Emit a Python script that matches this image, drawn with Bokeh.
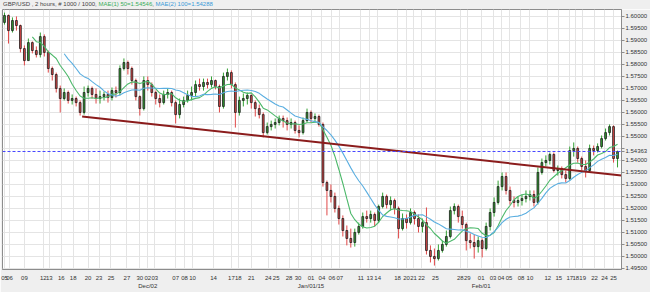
import numpy as np
import pandas as pd
from bokeh.plotting import figure
from bokeh.layouts import column
from bokeh.models import (Range1d, FixedTicker, Span, Div, LinearAxis,
                          ColumnDataSource, CustomJSTickFormatter)
from bokeh.embed import file_html
from bokeh.resources import INLINE

# ---------------- data (GBP/USD, 2-hour candles, sampled) ----------------
first_open = 1.5974
close = [
    1.6003, 1.5940, 1.5982, 1.5961, 1.5865, 1.5815, 1.5890, 1.5857, 1.5840, 1.5915,
    1.5849, 1.5782, 1.5757, 1.5699, 1.5657, 1.5682, 1.5649, 1.5657, 1.5640, 1.5599,
    1.5682, 1.5699, 1.5674, 1.5657, 1.5665, 1.5674, 1.5661, 1.5690, 1.5682, 1.5782,
    1.5807, 1.5782, 1.5732, 1.5665, 1.5615, 1.5732, 1.5715, 1.5682, 1.5657, 1.5640,
    1.5674, 1.5682, 1.5640, 1.5590, 1.5632, 1.5649, 1.5670, 1.5682, 1.5715, 1.5707,
    1.5724, 1.5715, 1.5732, 1.5707, 1.5624, 1.5749, 1.5765, 1.5715, 1.5599, 1.5649,
    1.5657, 1.5670, 1.5640, 1.5615, 1.5590, 1.5515, 1.5540, 1.5549, 1.5557, 1.5574,
    1.5565, 1.5549, 1.5557, 1.5524, 1.5515, 1.5565, 1.5599, 1.5574, 1.5582, 1.5549,
    1.5307, 1.5274, 1.5249, 1.5199, 1.5157, 1.5107, 1.5074, 1.5057, 1.5099, 1.5124,
    1.5165, 1.5157, 1.5174, 1.5149, 1.5207, 1.5249, 1.5215, 1.5232, 1.5199, 1.5115,
    1.5157, 1.5140, 1.5182, 1.5157, 1.5124, 1.5140, 1.5024, 1.4999, 1.4990, 1.5024,
    1.5049, 1.5082, 1.5190, 1.5207, 1.5165, 1.5132, 1.5065, 1.5057, 1.5040, 1.5065,
    1.5032, 1.5124, 1.5182, 1.5224, 1.5290, 1.5332, 1.5274, 1.5232, 1.5224, 1.5232,
    1.5240, 1.5249, 1.5257, 1.5224, 1.5349, 1.5390, 1.5399, 1.5424, 1.5357, 1.5365,
    1.5340, 1.5324, 1.5440, 1.5449, 1.5407, 1.5374, 1.5357, 1.5449, 1.5440, 1.5457,
    1.5490, 1.5515, 1.5540, 1.5407, 1.54363,
]
high = [
    1.6015, 1.6007, 1.5995, 1.5999, 1.5965, 1.5878, 1.5907, 1.5895, 1.5874, 1.5932,
    1.5924, 1.5857, 1.5790, 1.5765, 1.5711, 1.5699, 1.5690, 1.5674, 1.5665, 1.5649,
    1.5707, 1.5711, 1.5707, 1.5699, 1.5690, 1.5686, 1.5690, 1.5703, 1.5707, 1.5795,
    1.5824, 1.5815, 1.5790, 1.5740, 1.5670, 1.5749, 1.5749, 1.5724, 1.5690, 1.5674,
    1.5690, 1.5699, 1.5690, 1.5649, 1.5657, 1.5665, 1.5690, 1.5707, 1.5732, 1.5740,
    1.5740, 1.5740, 1.5749, 1.5736, 1.5715, 1.5765, 1.5782, 1.5774, 1.5724, 1.5665,
    1.5678, 1.5682, 1.5674, 1.5649, 1.5632, 1.5599, 1.5557, 1.5565, 1.5574, 1.5586,
    1.5586, 1.5578, 1.5574, 1.5565, 1.5545, 1.5578, 1.5615, 1.5607, 1.5595, 1.5590,
    1.5557, 1.5315, 1.5299, 1.5265, 1.5211, 1.5170, 1.5128, 1.5115, 1.5115, 1.5140,
    1.5182, 1.5190, 1.5190, 1.5182, 1.5215, 1.5265, 1.5257, 1.5249, 1.5240, 1.5207,
    1.5178, 1.5174, 1.5199, 1.5190, 1.5174, 1.5157, 1.5203, 1.5045, 1.5032, 1.5049,
    1.5065, 1.5107, 1.5207, 1.5220, 1.5215, 1.5190, 1.5140, 1.5095, 1.5090, 1.5082,
    1.5074, 1.5140, 1.5199, 1.5245, 1.5315, 1.5349, 1.5349, 1.5290, 1.5249, 1.5249,
    1.5257, 1.5274, 1.5274, 1.5274, 1.5370, 1.5407, 1.5420, 1.5432, 1.5432, 1.5378,
    1.5374, 1.5357, 1.5457, 1.5474, 1.5457, 1.5415, 1.5399, 1.5465, 1.5461, 1.5470,
    1.5503, 1.5532, 1.5549, 1.5545, 1.5440,
]
low = [
    1.5965, 1.5886, 1.5932, 1.5940, 1.5849, 1.5795, 1.5815, 1.5845, 1.5828, 1.5828,
    1.5832, 1.5765, 1.5732, 1.5682, 1.5599, 1.5649, 1.5636, 1.5632, 1.5624, 1.5586,
    1.5590, 1.5665, 1.5657, 1.5636, 1.5636, 1.5649, 1.5640, 1.5649, 1.5661, 1.5670,
    1.5774, 1.5757, 1.5715, 1.5649, 1.5586, 1.5607, 1.5690, 1.5665, 1.5632, 1.5620,
    1.5632, 1.5657, 1.5624, 1.5553, 1.5574, 1.5620, 1.5640, 1.5649, 1.5665, 1.5690,
    1.5690, 1.5699, 1.5703, 1.5695, 1.5599, 1.5615, 1.5732, 1.5699, 1.5536, 1.5586,
    1.5624, 1.5632, 1.5615, 1.5582, 1.5574, 1.5495, 1.5507, 1.5524, 1.5532, 1.5545,
    1.5536, 1.5524, 1.5532, 1.5511, 1.5495, 1.5507, 1.5557, 1.5557, 1.5557, 1.5540,
    1.5290, 1.5170, 1.5224, 1.5182, 1.5132, 1.5082, 1.5045, 1.5036, 1.5040, 1.5090,
    1.5115, 1.5140, 1.5140, 1.5124, 1.5140, 1.5199, 1.5199, 1.5190, 1.5174, 1.5074,
    1.5107, 1.5115, 1.5132, 1.5132, 1.5099, 1.5099, 1.5007, 1.4974, 1.4961, 1.4982,
    1.5015, 1.5040, 1.5074, 1.5174, 1.5140, 1.5115, 1.5024, 1.5032, 1.4990, 1.5015,
    1.4995, 1.5024, 1.5107, 1.5165, 1.5215, 1.5274, 1.5257, 1.5215, 1.5203, 1.5207,
    1.5211, 1.5224, 1.5232, 1.5207, 1.5215, 1.5340, 1.5374, 1.5382, 1.5349, 1.5336,
    1.5324, 1.5307, 1.5315, 1.5415, 1.5390, 1.5357, 1.5328, 1.5349, 1.5420, 1.5432,
    1.5449, 1.5482, 1.5503, 1.5390, 1.5370,
]

# moving-average windows (50 and 100 two-hour bars, in sampled candles)
ma1_window = 8
ma2_window = 16
ma1_last = "1.54546"
ma2_last = "1.54288"

# support trend line (candle index, price)
trend_x = [19.5, 155.0]
trend_y = [1.5582, 1.5336]

# price axis levels
price_levels = [1.495, 1.500, 1.505, 1.510, 1.515, 1.520, 1.525, 1.530, 1.535, 1.540, 1.545,
                1.550, 1.555, 1.560, 1.565, 1.570, 1.575, 1.580, 1.585, 1.590, 1.595, 1.600]

# date axis
date_tick_pos = [0, 1.25, 5, 9.75, 11.25, 14.25, 17.25, 21, 23.75, 26.75, 30.75, 34, 36, 37.75,
                 43, 45.25, 47.25, 52.5, 57, 58.75, 62, 66.25, 68.25, 71.5, 73.75, 77, 79.75,
                 82.25, 84.25, 89.5, 91.75, 93.75, 98.75, 101, 102.75, 104.75, 108.25, 114.5,
                 116.25, 119.75, 122.75, 124.75, 126.75, 129.75, 132, 136.5, 139.25, 142,
                 143.5, 145.25, 148.25, 150.75, 153]
date_tick_labels = ["05", "06", "09", "12", "13", "16", "18", "20", "23", "25", "27", "30", "02", "03",
                    "07", "08", "10", "14", "17", "18", "21", "24", "25", "28", "30", "01", "04",
                    "06", "07", "11", "13", "14", "18", "20", "21", "22", "25", "28",
                    "29", "01", "03", "04", "05", "08", "10", "12", "15", "17",
                    "18", "19", "22", "24", "25"]
month_tick_pos = [36, 77, 119.75]
month_tick_labels = ["Dec/02", "Jan/01/15", "Feb/01"]

# ---------------- derived ----------------
n = len(close)
idx = np.arange(n)
close_a = np.array(close)
open_a = np.concatenate([[first_open], close_a[:-1]])
up = close_a >= open_a
src = ColumnDataSource(dict(
    x=idx, open=open_a, close=close_a, high=np.array(high), low=np.array(low),
    top=np.maximum(open_a, close_a), bottom=np.minimum(open_a, close_a),
    color=np.where(up, "#33a033", "#e04848"),
))
ma1 = pd.Series(close_a).rolling(ma1_window).mean()
ma2 = pd.Series(close_a).rolling(ma2_window).mean()
last_price = close[-1]

FONT = "Liberation Sans"
TXT = "#333333"
BG = "#efefef"

p = figure(width=650, height=283, x_range=Range1d(-0.5, 155), y_range=Range1d(1.49446, 1.60279),
           y_axis_location="right", output_backend="svg", toolbar_location=None,
           min_border_left=2, min_border_right=26, min_border_top=0, min_border_bottom=23)
p.background_fill_color = "white"
p.border_fill_color = BG
p.outline_line_color = "#8c8c8c"

# y axis (price levels + last-price tag)
y_ticks = price_levels + [last_price]
y_fmt = CustomJSTickFormatter(args=dict(last=last_price), code="""
if (Math.abs(tick - last) < 1e-7) return tick.toFixed(5);
if (Math.abs(tick - last) < 0.0025) return "";
return tick.toFixed(5);
""")
p.yaxis.ticker = FixedTicker(ticks=y_ticks)
p.yaxis.formatter = y_fmt
p.yaxis.major_label_text_font = FONT
p.yaxis.major_label_text_font_size = "6px"
p.yaxis.major_label_text_color = TXT
p.yaxis.major_label_standoff = 1
p.yaxis.major_tick_out = 3
p.yaxis.major_tick_in = 0
p.yaxis.minor_tick_line_color = None
p.yaxis.axis_line_color = "#8c8c8c"
p.yaxis.major_tick_line_color = "#8c8c8c"
p.ygrid.ticker = FixedTicker(ticks=price_levels)
p.ygrid.grid_line_color = "#e4e4e4"

# x axis (days)
fmt_code = """
const i = pos.findIndex(v => Math.abs(v - tick) < 1e-6);
return i >= 0 ? lab[i] : "";
"""
xt = FixedTicker(ticks=date_tick_pos)
p.xaxis.ticker = xt
p.xaxis.formatter = CustomJSTickFormatter(args=dict(pos=date_tick_pos, lab=date_tick_labels), code=fmt_code)
p.xaxis.major_label_text_font = FONT
p.xaxis.major_label_text_font_size = "6px"
p.xaxis.major_label_text_color = TXT
p.xaxis.major_label_standoff = 6
p.xaxis.major_tick_out = 0
p.xaxis.major_tick_in = 0
p.xaxis.minor_tick_line_color = None
p.xaxis.axis_line_color = "#8c8c8c"
p.xaxis.major_tick_line_color = None
p.xgrid.ticker = xt
p.xgrid.grid_line_color = "#e4e4e4"

# x axis (months)
month_axis = LinearAxis(ticker=FixedTicker(ticks=month_tick_pos),
                        formatter=CustomJSTickFormatter(args=dict(pos=month_tick_pos, lab=month_tick_labels), code=fmt_code),
                        axis_line_color=None, major_tick_line_color=None, minor_tick_line_color=None,
                        major_tick_out=0, major_tick_in=0,
                        major_label_standoff=0, major_label_text_font=FONT,
                        major_label_text_font_size="6px", major_label_text_color=TXT)
p.add_layout(month_axis, "below")

# candles: coloured wicks, dark-edged bodies
p.segment(x0="x", y0="high", x1="x", y1="low", source=src, line_color="color", line_width=1)
p.vbar(x="x", width=0.45, top="top", bottom="bottom", source=src,
       fill_color="color", line_color="#1a1a1a", line_width=0.8)

# moving averages
p.line(idx, ma1, line_color="#4cb86a", line_width=1.1)
p.line(idx, ma2, line_color="#5aaee0", line_width=1.1)

# trend line
p.line(trend_x, trend_y, line_color="#8b1c1c", line_width=2)

# last price dashed line
p.add_layout(Span(location=last_price, dimension="width", line_color="#4646ff",
                  line_dash="3 2", line_width=1))

# title line
title = Div(
    text=('<span style="color:#444444">GBP/USD , 2 hours, # 1000 / 1000, </span>'
          f'<span style="color:#3aae5a">MAE(1) 50={ma1_last}</span>'
          '<span style="color:#444444">, </span>'
          f'<span style="color:#3a9ad8">MAE(2) 100={ma2_last}</span>'),
    width=650, height=9, margin=(0, 0, 0, 0),
    styles={"font-family": FONT, "font-size": "6px", "line-height": "9px",
            "background-color": BG, "padding-left": "3px", "white-space": "nowrap",
            "overflow": "hidden"},
)

layout = column(title, p, spacing=0, margin=(0, 0, 0, 0))
open("out.html", "w").write(file_html(layout, INLINE))
